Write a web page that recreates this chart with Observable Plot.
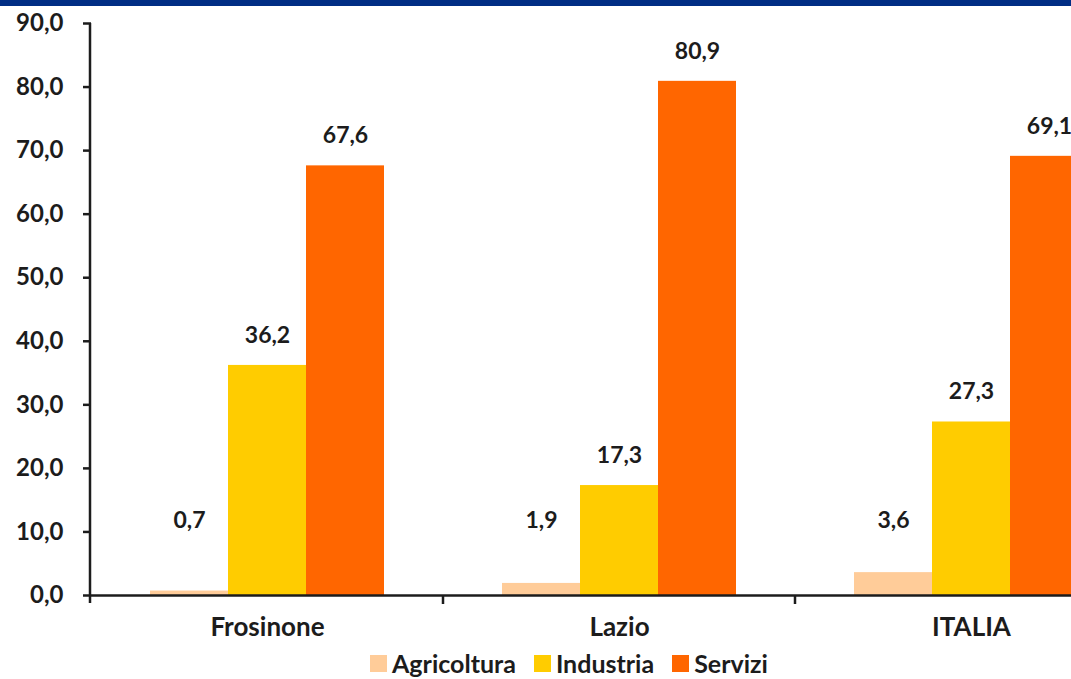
<!DOCTYPE html>
<html>
<head>
<meta charset="utf-8">
<script src="https://cdn.jsdelivr.net/npm/d3@7"></script>
<script src="https://cdn.jsdelivr.net/npm/@observablehq/plot@0.6"></script>
<style>
  html, body { margin: 0; padding: 0; background: #fff; }
  #wrap { position: relative; width: 1071px; height: 679px; overflow: hidden; font-family: Lato, "Open Sans", sans-serif; }
  #band { position: absolute; left: 0; top: 0; width: 1071px; height: 6px; background: #002d84; }
  #legend { position: absolute; left: 370px; top: 650px; display: flex; align-items: center;
            font-size: 25px; font-weight: 700; color: #1c1c1c; line-height: 26px; }
  .item { display: flex; align-items: center; margin-right: 18px; }
  .sw { width: 17px; height: 17px; margin-right: 5px; }
</style>
</head>
<body>
<div id="wrap">
  <div id="chart"></div>
  <div id="band"></div>
  <div id="legend"></div>
</div>
<script>
// Share of employment by sector (%)
const regions = ["Frosinone", "Lazio", "ITALIA"];
const sectors = ["Agricoltura", "Industria", "Servizi"];
const agricoltura = [0.7, 1.9, 3.6];
const industria = [36.2, 17.3, 27.3];
const servizi = [67.6, 80.9, 69.1];
const yTicks = [0, 10, 20, 30, 40, 50, 60, 70, 80, 90];
const colors = ["#ffcc99", "#ffcc00", "#ff6600"];

const series = [agricoltura, industria, servizi];
const rows = [];
regions.forEach((region, i) => {
  sectors.forEach((sector, j) => rows.push({region, sector, value: series[j][i]}));
});

const fmt = v => v.toFixed(1).replace(".", ",");

const chart = Plot.plot({
  width: 1071,
  height: 679,
  marginLeft: 90,
  marginRight: 0,
  marginTop: 23,
  marginBottom: 84,
  style: {fontFamily: "Lato, 'Open Sans', sans-serif", color: "#1c1c1c", background: "transparent"},
  fx: {domain: regions, range: [90, 1147], paddingInner: 0, paddingOuter: 0, label: null},
  x: {domain: sectors, paddingInner: 0, paddingOuter: 0.756, axis: null},
  y: {domain: [0, 90], label: null},
  color: {domain: sectors, range: colors},
  marks: [
    Plot.barY(rows, {fx: "region", x: "sector", y: "value", fill: "sector"}),
    Plot.ruleY([0], {stroke: "#1c1c1c", strokeWidth: 2.5}),
    Plot.text(rows, {
      fx: "region", x: "sector",
      y: d => Math.max(d.value, 7),
      dy: -30,
      text: d => fmt(d.value),
      fontSize: 23, fontWeight: 700, fill: "#1c1c1c"
    }),
    Plot.axisY({ticks: yTicks, tickFormat: fmt, tickSize: 8, tickPadding: 20, fontSize: 24, fontWeight: 700, stroke: "#1c1c1c", strokeWidth: 2.5}),
    Plot.axisFx({anchor: "bottom", tickSize: 0, tickPadding: 22, fontSize: 26, fontWeight: 700, label: null})
  ]
});

// y axis line and group separator ticks, positioned from the plot's own scales
const svg = d3.select(chart);
const fx = chart.scale("fx");
const y = chart.scale("y");
const x0 = fx.range[0];
svg.append("line")
  .attr("x1", x0).attr("x2", x0)
  .attr("y1", y.apply(90)).attr("y2", y.apply(0) + 8)
  .attr("stroke", "#1c1c1c").attr("stroke-width", 2.5);
const bounds = regions.map(r => fx.apply(r)).concat([fx.apply(regions[regions.length - 1]) + fx.bandwidth]);
bounds.slice(1).forEach(b => {
  svg.append("line")
    .attr("x1", b).attr("x2", b)
    .attr("y1", y.apply(0)).attr("y2", y.apply(0) + 9)
    .attr("stroke", "#1c1c1c").attr("stroke-width", 2.5);
});

document.getElementById("chart").appendChild(chart);

const legend = d3.select("#legend");
sectors.forEach((s, i) => {
  const it = legend.append("div").attr("class", "item");
  it.append("div").attr("class", "sw").style("background", colors[i]);
  it.append("span").text(s);
});
</script>
</body>
</html>
